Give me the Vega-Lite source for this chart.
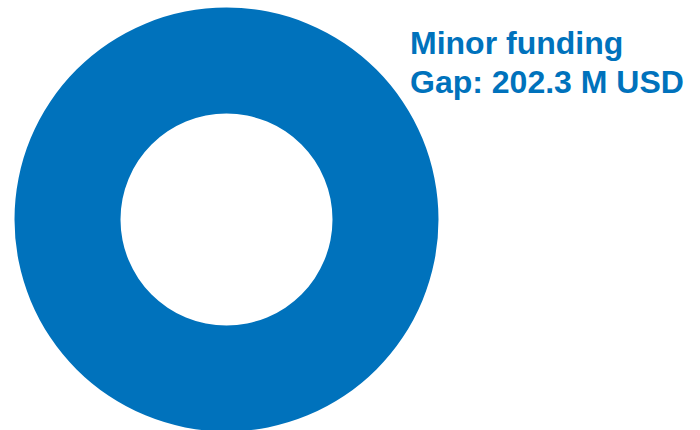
{
  "$schema": "https://vega.github.io/schema/vega-lite/v6.json",
  "width": 453,
  "height": 439,
  "autosize": {"type": "none"},
  "padding": {"left": 0, "top": 0, "right": 247, "bottom": 0},
  "background": "white",
  "view": {"stroke": null},
  "title": {
    "text": ["Minor funding", "Gap: 202.3 M USD"],
    "orient": "top",
    "anchor": "start",
    "frame": "group",
    "baseline": "alphabetic",
    "offset": 0,
    "dx": 410,
    "dy": 125,
    "font": "Liberation Sans",
    "fontSize": 32,
    "fontWeight": "bold",
    "color": "#0072BC",
    "lineHeight": 39
  },
  "data": {"values": [{"category": "Minor funding gap", "value": 202.3}]},
  "mark": {"type": "arc", "radius": 212, "innerRadius": 106, "color": "#0072BC"},
  "encoding": {
    "theta": {"field": "value", "type": "quantitative"}
  }
}
